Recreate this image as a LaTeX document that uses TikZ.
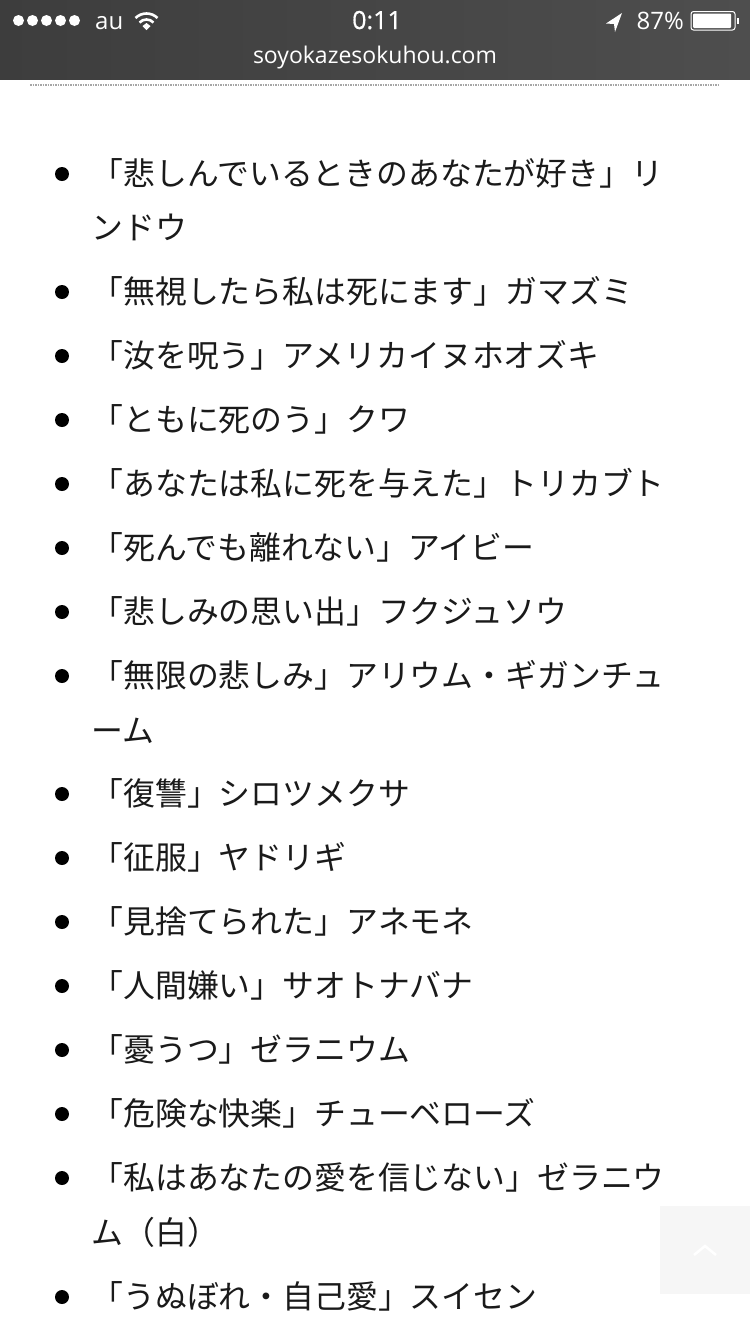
\documentclass[tikz,border=0pt]{standalone}
\usepackage{fontspec}
\setmainfont{Liberation Sans}
\newfontfamily\jpfont{Noto Sans CJK JP}
\newfontfamily\uifont{Open Sans}
\definecolor{barA}{HTML}{3D3D3D}
\definecolor{barB}{HTML}{4E4E4E}
\definecolor{ink}{HTML}{1A1A1A}
\tikzset{
  x=1pt,y=-1pt,
  item/.style={anchor=base west,inner sep=0pt,outer sep=0pt,text=ink,font=\jpfont\fontsize{31.85}{31.85}\selectfont},
  bulletdot/.style={circle,fill=black,minimum size=14pt,inner sep=0pt},
  ui/.style={inner sep=0pt,text=white},
}
\newcommand{\entry}[3]{\node[bulletdot] (b#1) at (62,#2+1) {};\node[item] (t#1) at (91.5,#2+12.5) {#3};}
\newcommand{\contline}[3]{\node[item] (c#1) at (91.5,#2+12.5) {#3};}
\begin{document}
\begin{tikzpicture}
\useasboundingbox (0,0) rectangle (750,1334);
\fill[white] (0,0) rectangle (750,1334);
% browser bar
\shade[left color=barA,right color=barB] (0,0) rectangle (750,79);
\foreach \i in {0,1,2,3,4}{\fill[white] (18.5+\i*14,20.5) circle (5.5);}
\node[ui,font=\uifont\fontsize{24}{24}\selectfont,anchor=base west] (carrier) at (95,29) {au};
% wifi
\begin{scope}[shift={(146.5,28)}]
\draw[white,line width=2.6pt] (-11,-10) .. controls (-5,-16) and (5,-16) .. (11,-10);
\draw[white,line width=2.6pt] (-7,-5.5) .. controls (-3,-9.5) and (3,-9.5) .. (7,-5.5);
\fill[white] (-4,-2) -- (0,-5) -- (4,-2) -- (0,2) -- cycle;
\end{scope}
\node[ui,font=\uifont\fontsize{25}{25}\selectfont,anchor=base] (clock) at (377,29) {\addfontfeatures{FakeBold=0.6}0:11};
% location arrow
\fill[white] (622,13) -- (606,23.5) -- (614,24) -- (615,32) -- cycle;
\node[ui,font=\uifont\fontsize{24}{24}\selectfont,anchor=base east] (percent) at (684,29) {87\%};
% battery
\draw[white,line width=1pt,rounded corners=2.5pt] (691,11.5) rectangle (735,30);
\fill[white,rounded corners=1pt] (693,13.5) rectangle (731,28);
\fill[white] (736.5,18) rectangle (738.5,24);
\node[ui,font=\uifont\fontsize{23}{23}\selectfont,anchor=base] (url) at (375,63) {soyokazesokuhou.com};
% separator
\draw[gray!70,line width=1.6pt,dash pattern=on 1.5pt off 1pt] (30,85) -- (720,85);
% list
\entry{1}{173}{「悲しんでいるときのあなたが好き」リ}
\contline{1}{227}{ンドウ}
\entry{2}{291}{「無視したら私は死にます」ガマズミ}
\entry{3}{355}{「汝を呪う」アメリカイヌホオズキ}
\entry{4}{419}{「ともに死のう」クワ}
\entry{5}{483}{「あなたは私に死を与えた」トリカブト}
\entry{6}{547}{「死んでも離れない」アイビー}
\entry{7}{611}{「悲しみの思い出」フクジュソウ}
\entry{8}{675}{「無限の悲しみ」アリウム・ギガンチュ}
\contline{8}{730}{ーム}
\entry{9}{793}{「復讐」シロツメクサ}
\entry{10}{857}{「征服」ヤドリギ}
\entry{11}{921}{「見捨てられた」アネモネ}
\entry{12}{985}{「人間嫌い」サオトナバナ}
\entry{13}{1049}{「憂うつ」ゼラニウム}
\entry{14}{1113}{「危険な快楽」チューベローズ}
\entry{15}{1177}{「私はあなたの愛を信じない」ゼラニウ}
\contline{15}{1232}{ム（白）}
\entry{16}{1296}{「うぬぼれ・自己愛」スイセン}
% back-to-top button
\fill[black,opacity=0.035] (660,1206) rectangle (750,1294);
\draw[white,line width=2.5pt] (694,1255) -- (705,1246) -- (716,1255);
\end{tikzpicture}
\end{document}
